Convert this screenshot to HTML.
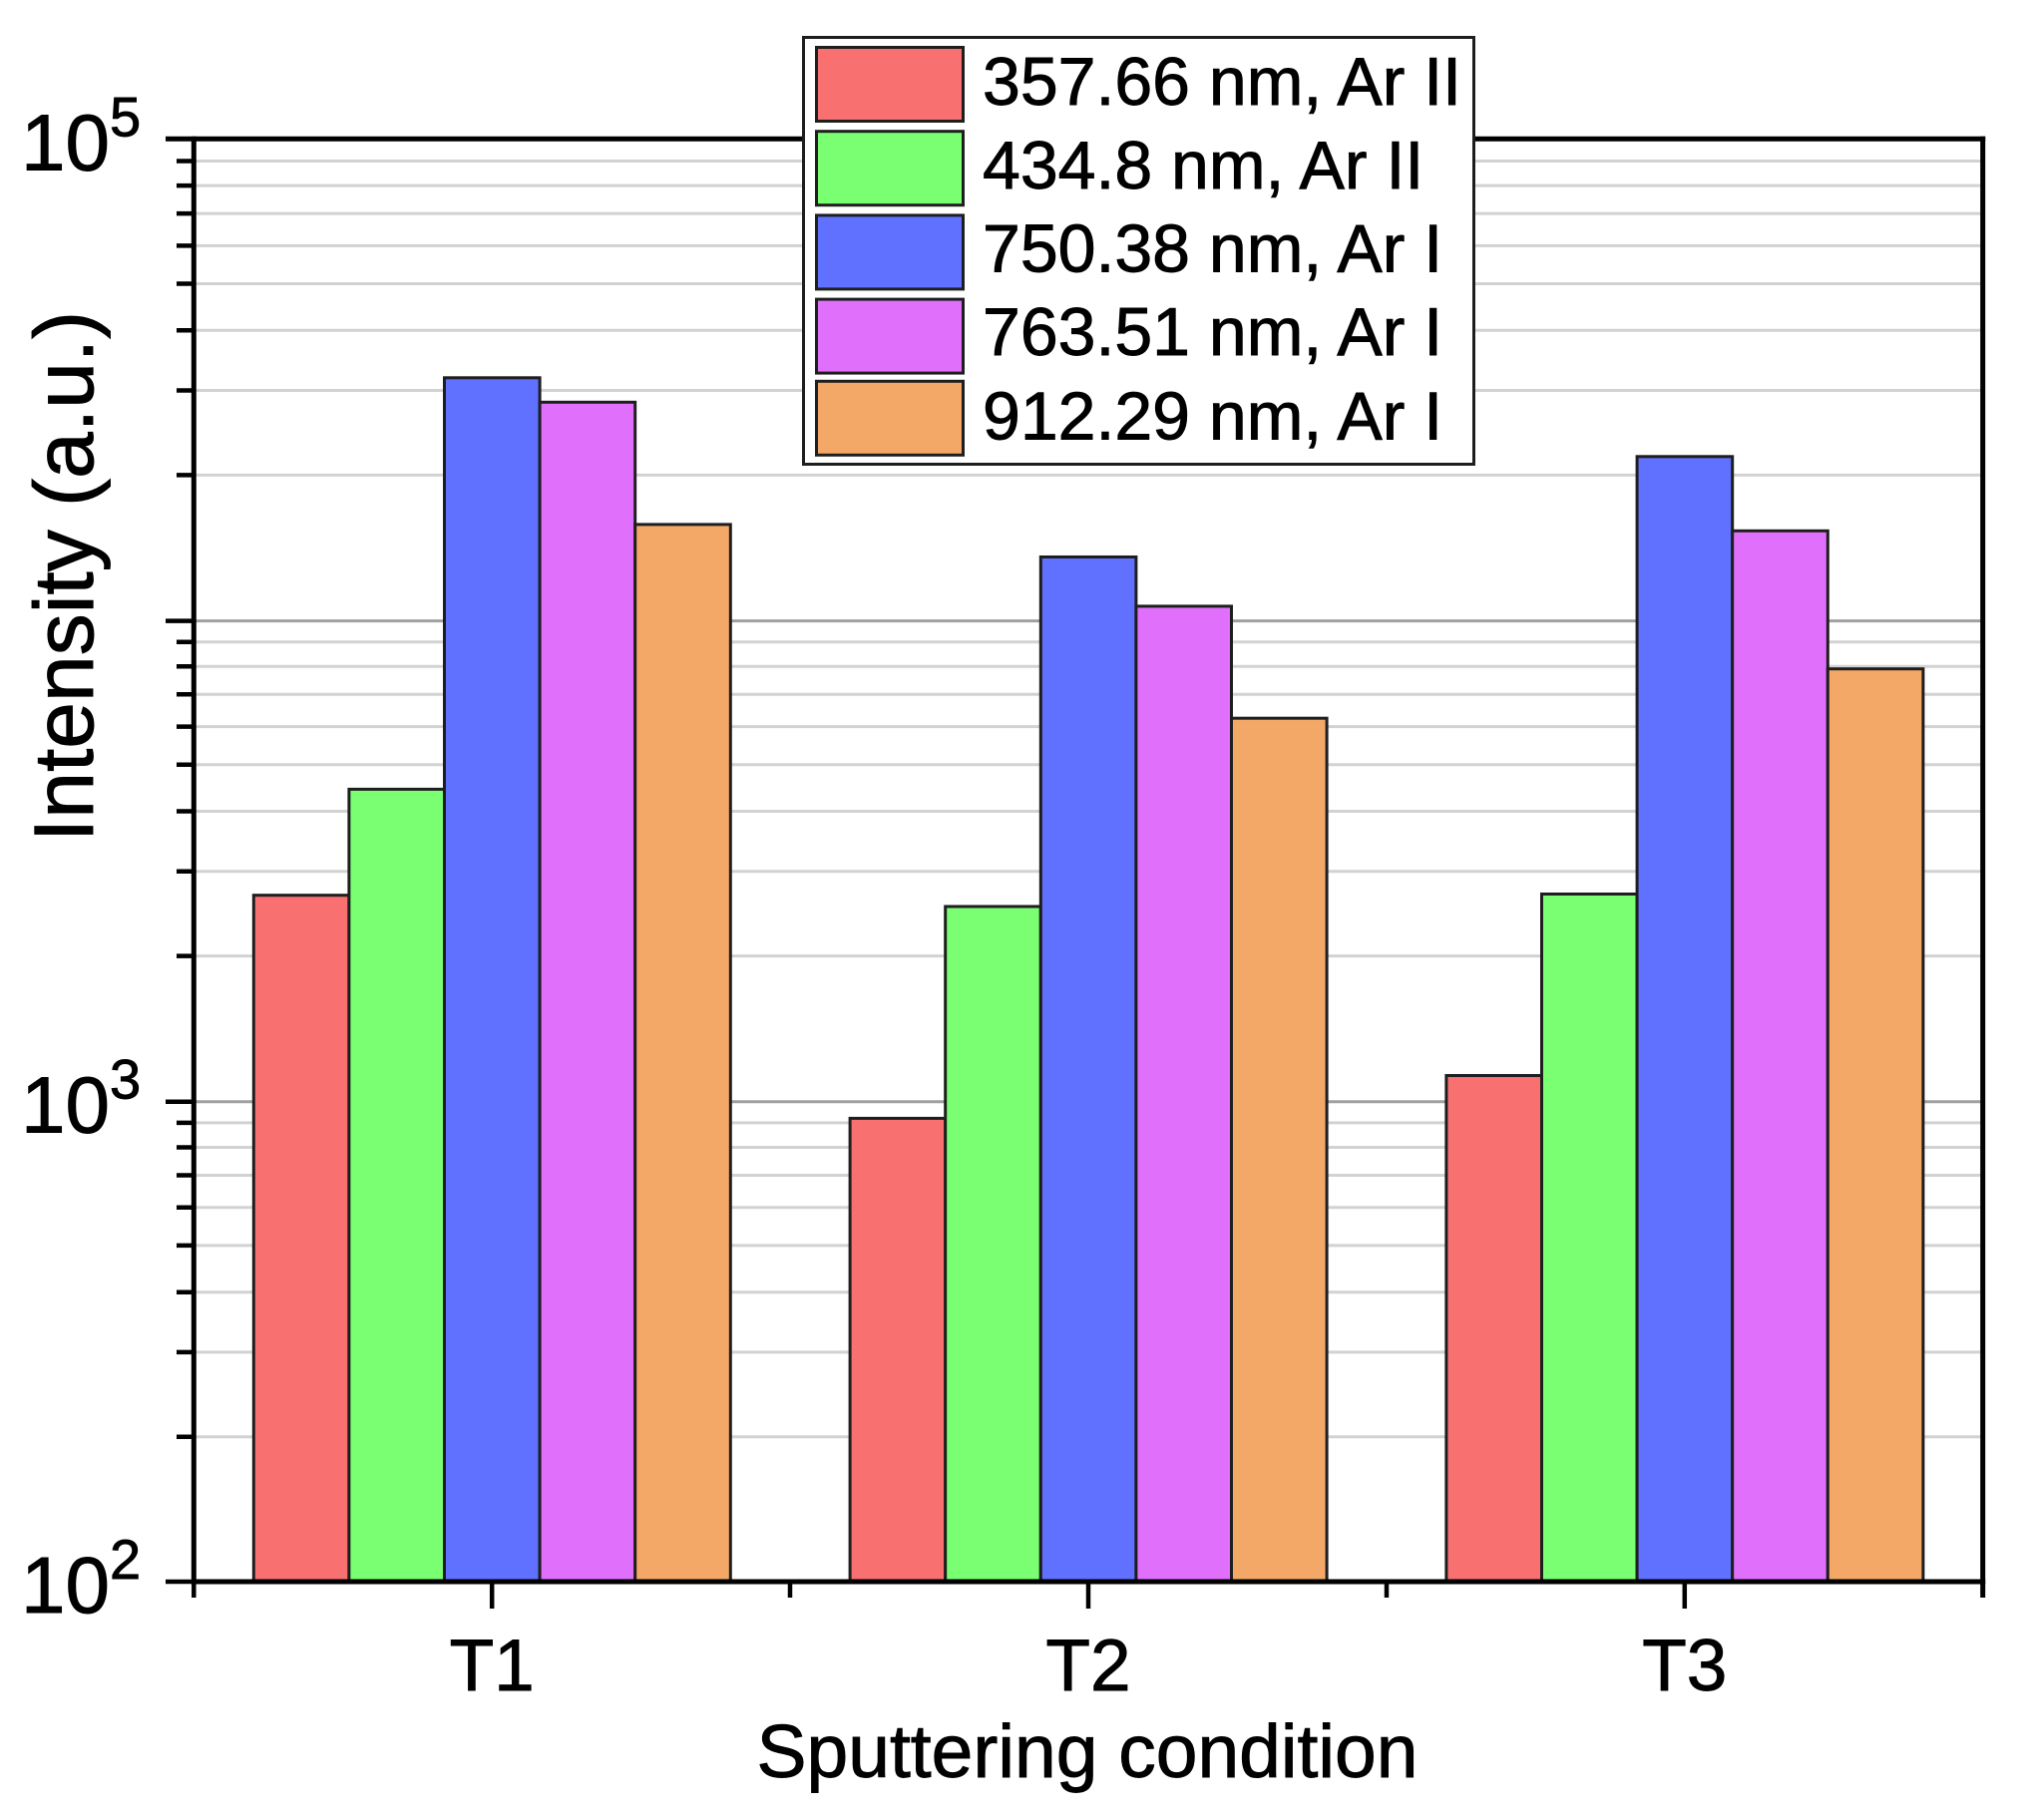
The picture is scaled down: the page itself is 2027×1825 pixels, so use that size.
<!DOCTYPE html>
<html>
<head>
<meta charset="utf-8">
<style>
html,body{margin:0;padding:0;background:#fff;}
svg{display:block;}
text{font-family:"Liberation Sans", Arial, sans-serif;fill:#000;stroke:#000;stroke-width:0.9px;}
</style>
</head>
<body>
<svg width="2027" height="1825" viewBox="0 0 2027 1825" xmlns="http://www.w3.org/2000/svg">
<rect x="0" y="0" width="2027" height="1825" fill="#fff"/>
<g stroke="#d2d2d2" stroke-width="3">
<line x1="196" x2="1986" y1="1440.8" y2="1440.8"/>
<line x1="196" x2="1986" y1="1355.9" y2="1355.9"/>
<line x1="196" x2="1986" y1="1295.7" y2="1295.7"/>
<line x1="196" x2="1986" y1="1248.9" y2="1248.9"/>
<line x1="196" x2="1986" y1="1210.8" y2="1210.8"/>
<line x1="196" x2="1986" y1="1178.5" y2="1178.5"/>
<line x1="196" x2="1986" y1="1150.5" y2="1150.5"/>
<line x1="196" x2="1986" y1="1125.9" y2="1125.9"/>
<line x1="196" x2="1986" y1="958.6" y2="958.6"/>
<line x1="196" x2="1986" y1="873.7" y2="873.7"/>
<line x1="196" x2="1986" y1="813.5" y2="813.5"/>
<line x1="196" x2="1986" y1="766.7" y2="766.7"/>
<line x1="196" x2="1986" y1="728.6" y2="728.6"/>
<line x1="196" x2="1986" y1="696.3" y2="696.3"/>
<line x1="196" x2="1986" y1="668.3" y2="668.3"/>
<line x1="196" x2="1986" y1="643.7" y2="643.7"/>
<line x1="196" x2="1986" y1="476.4" y2="476.4"/>
<line x1="196" x2="1986" y1="391.5" y2="391.5"/>
<line x1="196" x2="1986" y1="331.3" y2="331.3"/>
<line x1="196" x2="1986" y1="284.5" y2="284.5"/>
<line x1="196" x2="1986" y1="246.4" y2="246.4"/>
<line x1="196" x2="1986" y1="214.1" y2="214.1"/>
<line x1="196" x2="1986" y1="186.1" y2="186.1"/>
<line x1="196" x2="1986" y1="161.5" y2="161.5"/>
</g>
<g stroke="#a0a0a0" stroke-width="3">
<line x1="196" x2="1986" y1="1104.8" y2="1104.8"/>
<line x1="196" x2="1986" y1="622.6" y2="622.6"/>
</g>

<g stroke="#1e1e1e" stroke-width="3">
<rect x="254.3" y="897.7" width="95.6" height="688.3" fill="#F87070"/>
<rect x="349.9" y="791.4" width="95.6" height="794.6" fill="#7AFF73"/>
<rect x="445.5" y="378.8" width="95.6" height="1207.2" fill="#6070FF"/>
<rect x="541.1" y="403.3" width="95.6" height="1182.7" fill="#E070FC"/>
<rect x="636.7" y="525.9" width="95.6" height="1060.1" fill="#F3A868"/>
<rect x="852.1" y="1121.4" width="95.6" height="464.6" fill="#F87070"/>
<rect x="947.7" y="909" width="95.6" height="677" fill="#7AFF73"/>
<rect x="1043.3" y="558.5" width="95.6" height="1027.5" fill="#6070FF"/>
<rect x="1138.9" y="607.9" width="95.6" height="978.1" fill="#E070FC"/>
<rect x="1234.5" y="720.2" width="95.6" height="865.8" fill="#F3A868"/>
<rect x="1449.9" y="1078.5" width="95.6" height="507.5" fill="#F87070"/>
<rect x="1545.5" y="896.5" width="95.6" height="689.5" fill="#7AFF73"/>
<rect x="1641.1" y="457.8" width="95.6" height="1128.2" fill="#6070FF"/>
<rect x="1736.7" y="532.3" width="95.6" height="1053.7" fill="#E070FC"/>
<rect x="1832.3" y="670.7" width="95.6" height="915.3" fill="#F3A868"/>
</g>

<g stroke="#000" stroke-width="5" fill="none">
<line x1="194.3" y1="136.8" x2="194.3" y2="1588.5"/>
<line x1="191.8" y1="1586" x2="1990.2" y2="1586"/>
<line x1="166" y1="139.3" x2="1990.2" y2="139.3"/>
<line x1="1987.7" y1="136.8" x2="1987.7" y2="1602"/>
</g>

<g stroke="#000" stroke-width="4.5">
<line x1="166" x2="194" y1="1586" y2="1586"/>
<line x1="166" x2="194" y1="1104.8" y2="1104.8"/>
<line x1="166" x2="194" y1="622.6" y2="622.6"/>
<line x1="177" x2="194" y1="1440.8" y2="1440.8"/>
<line x1="177" x2="194" y1="1355.9" y2="1355.9"/>
<line x1="177" x2="194" y1="1295.7" y2="1295.7"/>
<line x1="177" x2="194" y1="1248.9" y2="1248.9"/>
<line x1="177" x2="194" y1="1210.8" y2="1210.8"/>
<line x1="177" x2="194" y1="1178.5" y2="1178.5"/>
<line x1="177" x2="194" y1="1150.5" y2="1150.5"/>
<line x1="177" x2="194" y1="1125.9" y2="1125.9"/>
<line x1="177" x2="194" y1="958.6" y2="958.6"/>
<line x1="177" x2="194" y1="873.7" y2="873.7"/>
<line x1="177" x2="194" y1="813.5" y2="813.5"/>
<line x1="177" x2="194" y1="766.7" y2="766.7"/>
<line x1="177" x2="194" y1="728.6" y2="728.6"/>
<line x1="177" x2="194" y1="696.3" y2="696.3"/>
<line x1="177" x2="194" y1="668.3" y2="668.3"/>
<line x1="177" x2="194" y1="643.7" y2="643.7"/>
<line x1="177" x2="194" y1="476.4" y2="476.4"/>
<line x1="177" x2="194" y1="391.5" y2="391.5"/>
<line x1="177" x2="194" y1="331.3" y2="331.3"/>
<line x1="177" x2="194" y1="284.5" y2="284.5"/>
<line x1="177" x2="194" y1="246.4" y2="246.4"/>
<line x1="177" x2="194" y1="214.1" y2="214.1"/>
<line x1="177" x2="194" y1="186.1" y2="186.1"/>
<line x1="177" x2="194" y1="161.5" y2="161.5"/>
</g>
<g stroke="#000" stroke-width="4.5">
<line x1="194.3" x2="194.3" y1="1586" y2="1602"/>
<line x1="493.2" x2="493.2" y1="1586" y2="1613"/>
<line x1="792" x2="792" y1="1586" y2="1602"/>
<line x1="1091" x2="1091" y1="1586" y2="1613"/>
<line x1="1390" x2="1390" y1="1586" y2="1602"/>
<line x1="1688.8" x2="1688.8" y1="1586" y2="1613"/>
</g>

<text x="21" y="170.5" font-size="80">10<tspan font-size="56" dy="-34">5</tspan></text>
<text x="21" y="1135.5" font-size="80">10<tspan font-size="56" dy="-34">3</tspan></text>
<text x="21" y="1617" font-size="80">10<tspan font-size="56" dy="-34">2</tspan></text>

<text x="493.2" y="1695" font-size="73" text-anchor="middle">T1</text>
<text x="1091" y="1695" font-size="73" text-anchor="middle">T2</text>
<text x="1688.8" y="1695" font-size="73" text-anchor="middle">T3</text>

<text x="1090" y="1782" font-size="75" text-anchor="middle">Sputtering condition</text>
<text transform="translate(93,578) rotate(-90)" font-size="84" text-anchor="middle">Intensity (a.u.)</text>

<rect x="805.5" y="37.5" width="672" height="428" fill="#fff" stroke="#1e1e1e" stroke-width="3"/>
<g stroke="#1e1e1e" stroke-width="3">
<rect x="818.5" y="47.5" width="147" height="74" fill="#F87070"/>
<rect x="818.5" y="131.7" width="147" height="74" fill="#7AFF73"/>
<rect x="818.5" y="215.9" width="147" height="74" fill="#6070FF"/>
<rect x="818.5" y="300.1" width="147" height="74" fill="#E070FC"/>
<rect x="818.5" y="382.3" width="147" height="74" fill="#F3A868"/>
</g>
<g font-size="68">
<text x="985" y="105">357.66 nm, Ar II</text>
<text x="985" y="189">434.8 nm, Ar II</text>
<text x="985" y="272.5">750.38 nm, Ar I</text>
<text x="985" y="356">763.51 nm, Ar I</text>
<text x="985" y="440.4">912.29 nm, Ar I</text>
</g>
</svg>
</body>
</html>
